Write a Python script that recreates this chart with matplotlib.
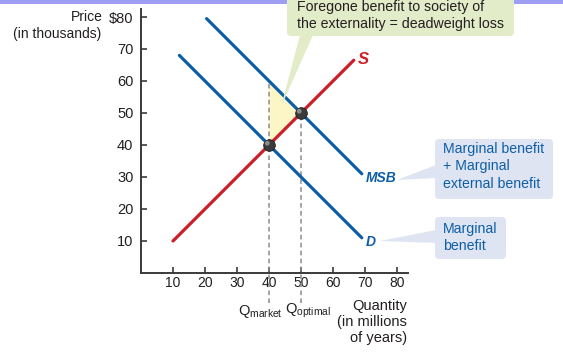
import numpy as np
import matplotlib
matplotlib.use("Agg")
import matplotlib.pyplot as plt
from matplotlib.patches import Polygon, FancyBboxPatch, Rectangle
from matplotlib.transforms import offset_copy

# ---- data -------------------------------------------------------------
q_supply = [10, 66.5]        # S: marginal cost
p_supply = [10, 66.5]
q_demand = [12, 69]          # D: marginal (private) benefit
p_demand = [68, 11]
q_msb = [20.5, 69]           # MSB: marginal social benefit
p_msb = [79.5, 31]

q_market, p_market = 40, 40
q_optimal, p_optimal = 50, 50

x_ticks = [10, 20, 30, 40, 50, 60, 70, 80]
y_ticks = [10, 20, 30, 40, 50, 60, 70, 80]
y_tick_labels = ["10", "20", "30", "40", "50", "60", "70", "\\$80"]

# ---- style ------------------------------------------------------------
plt.rcParams["font.family"] = ["Liberation Sans", "DejaVu Sans"]
plt.rcParams["mathtext.fontset"] = "custom"
plt.rcParams["mathtext.rm"] = "Liberation Sans"
plt.rcParams["mathtext.it"] = "Liberation Sans:italic"

BLUE = "#0d5ea8"
RED = "#cc1f2a"
TXT = "#231f20"
AXC = "#3a3a3a"
W, H = 563, 352

fig = plt.figure(figsize=(W / 100, H / 100), dpi=100)
fig.patch.set_facecolor("white")

# axes origin at pixel (141, 273), 3.2 px per unit on both axes
X0, Y0, S = 141, 273, 3.2
ax = fig.add_axes([X0 / W, (H - Y0) / H, (408 - X0) / W, (Y0 - 9) / H])
ax.set_xlim(0, (408 - X0) / S)
ax.set_ylim(0, (Y0 - 9) / S)
ax.patch.set_visible(False)


def P(xp, yp):
    """Figure pixel position (from top-left) -> data coordinates."""
    return ((xp - X0) / S, (Y0 - yp) / S)


for side in ("top", "right"):
    ax.spines[side].set_visible(False)
for side in ("left", "bottom"):
    ax.spines[side].set_color(AXC)
    ax.spines[side].set_linewidth(1.4)

ax.set_xticks(x_ticks)
ax.set_yticks(y_ticks)
ax.set_yticklabels(y_tick_labels)
ax.tick_params(axis="both", direction="in", length=4, width=1.2, color=AXC,
               labelcolor=TXT)
ax.tick_params(axis="x", labelsize=10, pad=2.5)
ax.tick_params(axis="y", labelsize=10.5, pad=5.5)

# top strip
fig.add_artist(Rectangle((0, 1 - 4 / H), 1, 4 / H, transform=fig.transFigure,
                         facecolor="#9e9ff2", edgecolor="none", zorder=-1))

# ---- deadweight-loss triangle ------------------------------------------
msb_at_market = np.interp(q_market, q_msb, p_msb)
tri = Polygon([(q_market, p_market), (q_market, msb_at_market),
               (q_optimal, p_optimal)], closed=True,
              facecolor="#fcf6c6", edgecolor="none", zorder=1)
ax.add_patch(tri)

# ---- dashed guides -----------------------------------------------------
y_low = P(0, 303)[1]
dash = dict(color="#8c8c8c", lw=1.1, ls=(0, (3, 2.2)), clip_on=False, zorder=2)
ax.plot([q_market, q_market], [y_low, msb_at_market], **dash)
ax.plot([q_optimal, q_optimal], [y_low, p_optimal], **dash)

# ---- curves ------------------------------------------------------------
ax.plot(q_supply, p_supply, color=RED, lw=2.3, zorder=3, solid_capstyle="round")
ax.plot(q_demand, p_demand, color=BLUE, lw=2.3, zorder=3, solid_capstyle="round")
ax.plot(q_msb, p_msb, color=BLUE, lw=2.3, zorder=3, solid_capstyle="round")

# equilibrium balls
qs = [q_market, q_optimal]
ps = [p_market, p_optimal]
ax.scatter(qs, ps, s=70, color="#3b3b3b", edgecolors="#1e1e1e",
           linewidths=0.6, zorder=6)
hl = offset_copy(ax.transData, fig=fig, x=-1.3, y=1.3, units="points")
ax.scatter(qs, ps, s=12, color="#9a9a9a", edgecolors="none", alpha=0.85,
           zorder=7, transform=hl)

# curve labels
ax.text(*P(363, 59), "S", color=RED, fontsize=12, fontweight="bold",
        fontstyle="italic", ha="center", va="center", clip_on=False)
ax.text(*P(381, 178), "MSB", color=BLUE, fontsize=10, fontweight="bold",
        fontstyle="italic", ha="center", va="center", clip_on=False)
ax.text(*P(371, 242), "D", color=BLUE, fontsize=10, fontweight="bold",
        fontstyle="italic", ha="center", va="center", clip_on=False)

# ---- axis titles -------------------------------------------------------
ax.text(*P(103, 17), "Price", color=TXT, fontsize=10, ha="right",
        va="center", clip_on=False)
ax.text(*P(101, 34), "(in thousands)", color=TXT, fontsize=10, ha="right",
        va="center", clip_on=False)
ax.text(*P(407, 299), "Quantity\n(in millions\nof years)", color=TXT,
        fontsize=10.5, ha="right", va="top", linespacing=1.2, clip_on=False)
ax.text(*P(260, 311), r"$\mathrm{Q}_{\mathrm{market}}$", color=TXT,
        fontsize=10.5, ha="center", va="center", clip_on=False)
ax.text(*P(307.5, 311), r"$\mathrm{Q}_{\mathrm{optimal}}$", color=TXT,
        fontsize=10.5, ha="center", va="center", clip_on=False)


# ---- callouts ----------------------------------------------------------
def callout(x0, y0, x1, y1, pointer, face):
    (a, b), (c, d) = P(x0, y1), P(x1, y0)
    box = FancyBboxPatch((a, b), c - a, d - b,
                         boxstyle="round,pad=0,rounding_size=1.3",
                         facecolor=face, edgecolor="none", zorder=8,
                         clip_on=False)
    ax.add_patch(box)
    ax.add_patch(Polygon([P(*v) for v in pointer], closed=True,
                         facecolor=face, edgecolor="none", zorder=8,
                         clip_on=False))


GREEN = "#e3ecc9"
LBLUE = "#dfe4f2"
callout(287, -8, 514, 36, [(300, 35), (313, 35), (281, 107)], GREEN)
ax.text(*P(297, 0), "Foregone benefit to society of\nthe externality = deadweight loss",
        color=TXT, fontsize=10.2, ha="left", va="top", linespacing=1.3,
        zorder=9, clip_on=False)

callout(435, 139, 553, 199, [(436, 165), (436, 178), (397, 180)], LBLUE)
ax.text(*P(443, 142), "Marginal benefit\n+ Marginal\nexternal benefit",
        color=BLUE, fontsize=10.2, ha="left", va="top", linespacing=1.3,
        zorder=9, clip_on=False)

callout(435, 217, 506, 259, [(436, 230), (436, 243), (380, 241)], LBLUE)
ax.text(*P(443, 222), "Marginal\nbenefit", color=BLUE, fontsize=10.2,
        ha="left", va="top", linespacing=1.3, zorder=9, clip_on=False)

fig.savefig("out.png", dpi=100)
